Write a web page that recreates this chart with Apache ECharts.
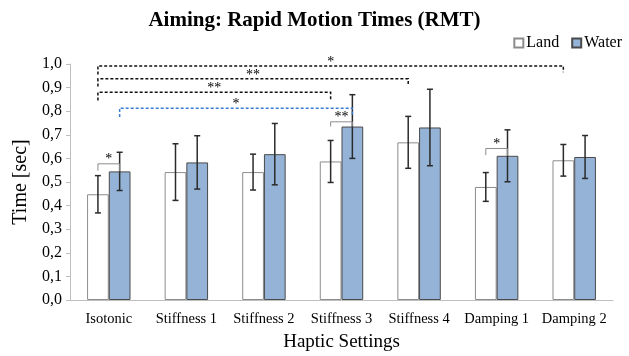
<!DOCTYPE html>
<html>
<head>
<meta charset="utf-8">
<script src="https://cdn.jsdelivr.net/npm/echarts@6/dist/echarts.min.js"></script>
<style>
  html, body { margin: 0; padding: 0; background: #fff; }
  #chart { width: 629px; height: 356px; }
</style>
</head>
<body>
<div id="chart"></div>
<script>
var categories = ['Isotonic', 'Stiffness 1', 'Stiffness 2', 'Stiffness 3', 'Stiffness 4', 'Damping 1', 'Damping 2'];
var landMean = [0.448, 0.542, 0.542, 0.587, 0.668, 0.479, 0.592];
var landErr = [0.079, 0.120, 0.076, 0.089, 0.110, 0.061, 0.067];
var waterMean = [0.545, 0.583, 0.618, 0.735, 0.731, 0.611, 0.606];
var waterErr = [0.081, 0.113, 0.130, 0.135, 0.162, 0.110, 0.091];

// brackets: [fromCat, fromSide(0 land,1 water), toCat, toSide, lineY, leftEndY, rightEndY]
var longBrackets = [
  [0, 0, 6, 0, 0.992, 0.955, 0.965],
  [0, 0, 4, 0, 0.937, 0.905, 0.910],
  [0, 0, 3, 0, 0.880, 0.845, 0.845]
];
var longLabels = ['*', '**', '**'];
var blueBrackets = [
  [0, 1, 3, 1, 0.813, 0.775, 0.780]
];
var blueLabels = ['*'];
var pairBrackets = [
  [0, 0, 0, 1, 0.577, 0.548, 0.545],
  [3, 0, 3, 1, 0.755, 0.735, 0.735],
  [5, 0, 5, 1, 0.642, 0.614, 0.611]
];
var pairLabels = ['*', '**', '*'];

var HALF = 0.14; // half of bar width as share of category band
var SERIF = '"Liberation Serif", "Times New Roman", serif';

function sideX(api, cat, side) {
  var band = api.size([1, 0])[0];
  return api.coord([cat, 0])[0] + (side === 0 ? -1 : 1) * band * HALF;
}

function bracketRenderer(labels, color, dash, lw) {
  return function (params, api) {
    var x1 = sideX(api, api.value(0), api.value(1));
    var x2 = sideX(api, api.value(2), api.value(3));
    var y = api.coord([0, api.value(4)])[1];
    var yl = api.coord([0, api.value(5)])[1];
    var yr = api.coord([0, api.value(6)])[1];
    return {
      type: 'group',
      children: [{
        type: 'polyline',
        shape: { points: [[x1, yl], [x1, y], [x2, y], [x2, yr]] },
        style: { stroke: color, lineWidth: lw, lineDash: dash, fill: null }
      }, {
        type: 'text',
        style: {
          x: (x1 + x2) / 2, y: y - 4,
          text: labels[params.dataIndex],
          fill: '#000', font: '14px ' + SERIF,
          align: 'center', verticalAlign: 'middle'
        }
      }]
    };
  };
}

function errorRenderer(side, errs) {
  return function (params, api) {
    var cat = api.value(0);
    var x = sideX(api, cat, side);
    var m = api.value(1);
    var e = errs[params.dataIndex];
    var yh = api.coord([cat, m + e])[1];
    var yl = api.coord([cat, m - e])[1];
    var c = 3;
    var st = { stroke: '#2b2b2b', lineWidth: 1.5 };
    return {
      type: 'group',
      children: [
        { type: 'line', shape: { x1: x, y1: yh, x2: x, y2: yl }, style: st },
        { type: 'line', shape: { x1: x - c, y1: yh, x2: x + c, y2: yh }, style: st },
        { type: 'line', shape: { x1: x - c, y1: yl, x2: x + c, y2: yl }, style: st }
      ]
    };
  };
}

var chart = echarts.init(document.getElementById('chart'));
chart.setOption({
  animation: false,
  title: {
    text: 'Aiming: Rapid Motion Times (RMT)',
    left: 'center', top: 5,
    textStyle: { fontFamily: SERIF, fontSize: 21, fontWeight: 'bold', color: '#000' }
  },
  legend: {
    right: 2, top: 30,
    itemWidth: 9, itemHeight: 9, itemGap: 12,
    icon: 'rect',
    textStyle: { fontFamily: SERIF, fontSize: 16, color: '#000', padding: [0, 0, 0, -2] },
    data: ['Land', 'Water']
  },
  grid: { left: 70, right: 16, top: 64, bottom: 56, outerBoundsMode: 'none' },
  xAxis: {
    type: 'category',
    data: categories,
    name: 'Haptic Settings',
    nameLocation: 'middle', nameGap: 33,
    nameTextStyle: { fontFamily: SERIF, fontSize: 19, color: '#000' },
    axisLine: { lineStyle: { color: '#bfbfbf' } },
    axisTick: { show: false },
    axisLabel: { fontFamily: SERIF, fontSize: 14.5, color: '#000', margin: 12, interval: 0 }
  },
  yAxis: {
    type: 'value', min: 0, max: 1, interval: 0.1,
    name: 'Time [sec]',
    nameLocation: 'middle', nameGap: 38,
    nameTextStyle: { fontFamily: SERIF, fontSize: 20, color: '#000' },
    axisLine: { show: true, lineStyle: { color: '#bfbfbf' } },
    axisTick: { show: true, length: 4, lineStyle: { color: '#bfbfbf' } },
    splitLine: { show: false },
    axisLabel: {
      fontFamily: SERIF, fontSize: 16, color: '#000', margin: 8,
      formatter: function (v) { return v.toFixed(1).replace('.', ','); }
    }
  },
  series: [{
    name: 'Land', type: 'bar', data: landMean,
    barWidth: '28%', barGap: '0%',
    itemStyle: { color: '#fff', borderColor: '#8c8c8c', borderWidth: 1 }
  }, {
    name: 'Water', type: 'bar', data: waterMean,
    barWidth: '28%', barGap: '0%',
    itemStyle: { color: '#95b3d7', borderColor: '#4a4a4a', borderWidth: 1 }
  }, {
    type: 'custom', silent: true, z: 5,
    data: landMean.map(function (v, i) { return [i, v]; }),
    renderItem: errorRenderer(0, landErr)
  }, {
    type: 'custom', silent: true, z: 5,
    data: waterMean.map(function (v, i) { return [i, v]; }),
    renderItem: errorRenderer(1, waterErr)
  }, {
    type: 'custom', silent: true, z: 6, clip: false,
    data: longBrackets,
    renderItem: bracketRenderer(longLabels, '#111', [3, 2], 1.5)
  }, {
    type: 'custom', silent: true, z: 6, clip: false,
    data: blueBrackets,
    renderItem: bracketRenderer(blueLabels, '#3b7fd4', [3, 2], 1.5)
  }, {
    type: 'custom', silent: true, z: 6, clip: false,
    data: pairBrackets,
    renderItem: bracketRenderer(pairLabels, '#8c8c8c', null, 1)
  }]
});
</script>
</body>
</html>
